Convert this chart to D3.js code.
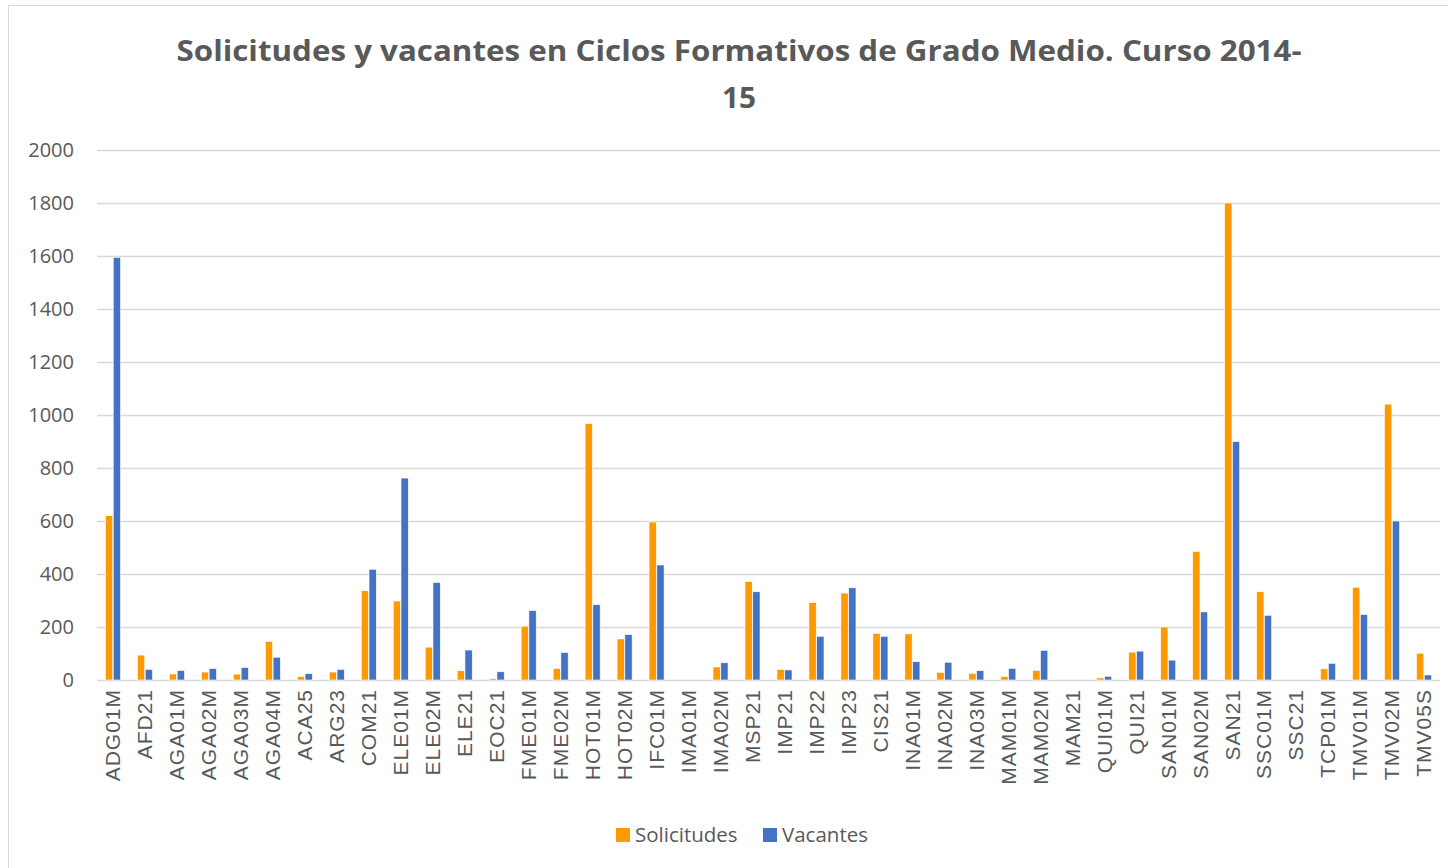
<!DOCTYPE html>
<html>
<head>
<meta charset="utf-8">
<script src="https://cdn.jsdelivr.net/npm/d3@7"></script>
<style>
  body { margin: 0; background: #fff; }
  svg { display: block; }
</style>
</head>
<body>
<svg id="chart" width="1448" height="868"></svg>
<script>
// categorías (eje X)
const categories = ["ADG01M", "AFD21", "AGA01M", "AGA02M", "AGA03M", "AGA04M", "ACA25", "ARG23",
  "COM21", "ELE01M", "ELE02M", "ELE21", "EOC21", "FME01M", "FME02M", "HOT01M", "HOT02M", "IFC01M",
  "IMA01M", "IMA02M", "MSP21", "IMP21", "IMP22", "IMP23", "CIS21", "INA01M", "INA02M", "INA03M",
  "MAM01M", "MAM02M", "MAM21", "QUI01M", "QUI21", "SAN01M", "SAN02M", "SAN21", "SSC01M", "SSC21",
  "TCP01M", "TMV01M", "TMV02M", "TMV05S"];

const solicitudes = [620, 94, 23, 30, 22, 146, 13, 30, 337, 298, 124, 35, 5, 203, 43, 967, 155, 596,
  0, 49, 371, 40, 292, 328, 176, 174, 29, 25, 13, 36, 0, 8, 105, 200, 485, 1800, 333, 0,
  42, 350, 1041, 101];

const vacantes = [1595, 40, 36, 43, 47, 86, 24, 40, 418, 762, 368, 113, 31, 262, 104, 284, 171, 434,
  0, 65, 333, 38, 165, 348, 165, 69, 67, 35, 44, 112, 0, 14, 109, 75, 257, 900, 244, 0,
  63, 247, 600, 19];

const yTicks = [0, 200, 400, 600, 800, 1000, 1200, 1400, 1600, 1800, 2000];

const seriesNames = ["Solicitudes", "Vacantes"];
const colors = { Solicitudes: "#FF9900", Vacantes: "#4472C4" };

const width = 1448;
const height = 868;
const margin = { top: 150, bottom: 188, left: 97, right: 8 };
const textColor = "#595959";

const svg = d3.select("#chart");

// marco exterior
svg.append("rect")
  .attr("x", 8.5).attr("y", 5.5)
  .attr("width", width).attr("height", height)
  .attr("fill", "none")
  .attr("stroke", "#D9D9D9")
  .attr("stroke-width", 1);

// título
const title = svg.append("text")
  .attr("text-anchor", "middle")
  .attr("fill", textColor)
  .style("font-family", "'Open Sans', 'Liberation Sans', sans-serif")
  .style("font-weight", "bold")
  .style("font-size", "29px");
title.append("tspan")
  .attr("x", 739).attr("y", 61)
  .attr("textLength", 1125)
  .attr("lengthAdjust", "spacingAndGlyphs")
  .text("Solicitudes y vacantes en Ciclos Formativos de Grado Medio. Curso 2014-");
title.append("tspan")
  .attr("x", 739).attr("y", 108)
  .attr("textLength", 34)
  .attr("lengthAdjust", "spacingAndGlyphs")
  .text("15");

// escalas
const x0 = d3.scaleBand()
  .domain(categories)
  .range([margin.left, width - margin.right])
  .paddingInner(0.5)
  .paddingOuter(0.25);

const x1 = d3.scaleBand()
  .domain(seriesNames)
  .range([0, x0.bandwidth()])
  .padding(0.06);

const y = d3.scaleLinear()
  .domain([0, 2000])
  .range([height - margin.bottom, margin.top]);

// rejilla + etiquetas eje Y
const yAxis = d3.axisLeft(y)
  .tickValues(yTicks)
  .tickSize(-(width - margin.left - margin.right))
  .tickPadding(23)
  .tickFormat(d3.format("d"));

const gy = svg.append("g")
  .attr("transform", `translate(${margin.left},0)`)
  .call(yAxis);
gy.select(".domain").remove();
gy.selectAll(".tick line")
  .attr("stroke", "#D9D9D9")
  .attr("stroke-width", 1.5);
gy.selectAll(".tick text")
  .attr("fill", textColor)
  .style("font-family", "'Open Sans', 'Liberation Sans', sans-serif")
  .style("font-size", "20px");

// barras
const rows = categories.map((c, i) => ({ cat: c, Solicitudes: solicitudes[i], Vacantes: vacantes[i] }));

const groups = svg.append("g")
  .selectAll("g")
  .data(rows)
  .join("g")
  .attr("transform", d => `translate(${x0(d.cat)},0)`);

groups.selectAll("rect")
  .data(d => seriesNames.map(k => ({ key: k, value: d[k] })))
  .join("rect")
  .filter(d => d.value > 0)
  .attr("x", d => x1(d.key))
  .attr("y", d => y(d.value))
  .attr("width", x1.bandwidth())
  .attr("height", d => y(0) - y(d.value))
  .attr("fill", d => colors[d.key])
  .attr("stroke", "#fff")
  .attr("stroke-width", 0.6);

// etiquetas eje X (rotadas)
const xAxis = d3.axisBottom(x0).tickSize(0).tickPadding(0);
const gx = svg.append("g")
  .attr("transform", `translate(0,${height - margin.bottom})`)
  .call(xAxis);
gx.select(".domain").remove();
gx.selectAll(".tick text")
  .attr("transform", "rotate(-90)")
  .attr("x", -9)
  .attr("y", 0)
  .attr("dy", "0.35em")
  .style("text-anchor", "end")
  .attr("fill", textColor)
  .style("font-family", "'Liberation Sans', Arial, sans-serif")
  .style("font-size", "21px")
  .style("letter-spacing", "1px");

// leyenda
const legendItems = [
  { key: "Solicitudes", x: 616 },
  { key: "Vacantes", x: 763 }
];
const legend = svg.append("g");
legendItems.forEach(item => {
  legend.append("rect")
    .attr("x", item.x).attr("y", 828)
    .attr("width", 14).attr("height", 14)
    .attr("fill", colors[item.key]);
  legend.append("text")
    .attr("x", item.x + 19).attr("y", 842)
    .attr("fill", textColor)
    .style("font-family", "'Open Sans', 'Liberation Sans', sans-serif")
    .style("font-size", "20.5px")
    .text(item.key);
});
</script>
</body>
</html>
